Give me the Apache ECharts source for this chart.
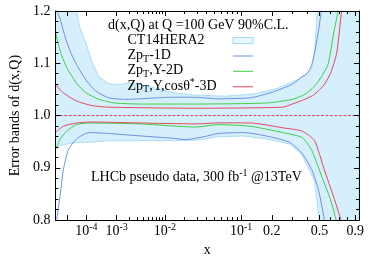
<!DOCTYPE html>
<html>
<head>
<meta charset="utf-8">
<script src="https://cdn.jsdelivr.net/npm/echarts@6.0.0/dist/echarts.min.js"></script>
<style>
html,body{margin:0;padding:0;background:#ffffff;}
#chart{width:374px;height:262px;}
</style>
</head>
<body>
<div id="chart"></div>
<script>
// ---------------- data (x in real units, y = ratio to central) ----------------
const bandUpperX = [1.08e-6, 9.31e-6, 3.45e-5, 4.97e-5, 9.72e-5, 1.70e-4, 2.95e-4, 5.98e-4, 1.10e-3, 1.89e-3, 3.56e-3, 7.31e-3, 1.36e-2, 2.88e-2, 6.61e-2, 0.1341, 0.2263, 0.3316, 0.3975, 0.4335, 0.4571, 0.4812, 0.515, 0.6, 0.955];
const bandUpperY = [1.40, 1.26, 1.20, 1.17, 1.138, 1.101, 1.074, 1.061, 1.059, 1.062, 1.059, 1.052, 1.0435, 1.039, 1.037, 1.041, 1.052, 1.0685, 1.0795, 1.089, 1.12, 1.20, 1.35, 1.5, 1.5];
const bandLowerX = [1.08e-6, 3.04e-6, 3.45e-5, 1.70e-4, 5.98e-4, 1.36e-2, 2.88e-2, 3.84e-2, 5.5e-2, 0.1069, 0.1773, 0.2856, 0.3634, 0.4571, 0.4979, 0.515, 0.6, 0.955];
const bandLowerY = [0.937, 0.943, 0.949, 0.949, 0.952, 0.952, 0.953, 0.955, 0.9595, 0.961, 0.955, 0.946, 0.925, 0.875, 0.80, 0.76, 0.5, 0.5];

const up1DX = [1.08e-6, 1.57e-6, 3.04e-6, 5.44e-6, 9.31e-6, 1.87e-5, 3.45e-5, 9.72e-5, 2.29e-4, 5.98e-4, 1.59e-3, 3.56e-3, 7.31e-3, 1.36e-2, 2.88e-2, 5.5e-2, 0.125, 0.2046, 0.3023, 0.3634, 0.3975, 0.4335, 0.4649, 0.4925, 0.515, 0.54];
const up1DY = [1.21, 1.2, 1.184, 1.162, 1.141, 1.117, 1.098, 1.068, 1.047, 1.034, 1.031, 1.032, 1.034, 1.035, 1.035, 1.032, 1.034, 1.045, 1.060, 1.074, 1.080, 1.096, 1.129, 1.165, 1.2, 1.24];
const lo1DX = [1.08e-6, 1.57e-6, 3.04e-6, 5.44e-6, 1.18e-5, 3.45e-5, 1.31e-4, 5.98e-4, 3.56e-3, 1.36e-2, 2.12e-2, 3.84e-2, 5.5e-2, 0.1069, 0.1773, 0.2856, 0.3634, 0.4335, 0.4871, 0.5417, 0.56];
const lo1DY = [0.77, 0.804, 0.849, 0.897, 0.934, 0.955, 0.9675, 0.9657, 0.961, 0.9565, 0.954, 0.960, 0.9657, 0.9675, 0.961, 0.949, 0.928, 0.897, 0.861, 0.802, 0.773];

const up2DX = [1.08e-6, 3.04e-6, 9.31e-6, 3.45e-5, 9.72e-5, 2.95e-4, 9.05e-4, 3.56e-3, 2.88e-2, 0.1773, 0.3023, 0.3836, 0.4571, 0.515, 0.5788, 0.6382, 0.6805, 0.7137];
const up2DY = [1.160, 1.123, 1.092, 1.062, 1.0435, 1.031, 1.024, 1.022, 1.022, 1.024, 1.031, 1.0405, 1.056, 1.074, 1.098, 1.16, 1.196, 1.23];
const lo2DX = [1.08e-6, 3.04e-6, 9.31e-6, 3.45e-5, 1.31e-4, 3.56e-3, 2.88e-2, 5.5e-2, 0.1247, 0.2496, 0.3634, 0.4335, 0.515, 0.6077, 0.6591, 0.6912];
const lo2DY = [0.934, 0.955, 0.970, 0.9826, 0.9858, 0.984, 0.978, 0.9826, 0.9795, 0.9675, 0.958, 0.934, 0.886, 0.8365, 0.802, 0.773];

const up3DX = [1.08e-6, 5.3e-6, 3.45e-5, 1.70e-4, 5.98e-4, 2.88e-2, 0.2496, 0.3023, 0.3836, 0.4571, 0.5417, 0.6077, 0.6696, 0.725, 0.760];
const up3DY = [1.059, 1.0435, 1.028, 1.019, 1.016, 1.014, 1.016, 1.022, 1.031, 1.0405, 1.059, 1.083, 1.12, 1.2, 1.238];
const lo3DX = [1.08e-6, 5.3e-6, 3.45e-5, 1.70e-4, 3.56e-3, 2.88e-2, 5.5e-2, 0.1247, 0.2496, 0.3634, 0.4571, 0.5417, 0.6382, 0.7137, 0.7485];
const lo3DY = [0.9675, 0.9795, 0.9858, 0.9876, 0.9858, 0.984, 0.986, 0.9858, 0.9766, 0.9704, 0.952, 0.897, 0.843, 0.802, 0.773];

const centralY = [1.0, 1.0];

const xLabelValues = [1e-4, 1e-3, 1e-2, 0.1, 0.2, 0.5, 0.9];
const xLabelTexts = ['10^-4', '10^-3', '10^-2', '10^-1', '0.2', '0.5', '0.9'];
const xMajorTicks = [1e-5, 1e-4, 1e-3, 1e-2, 0.1, 0.2, 0.5, 0.9];
const xMinorTicks = [2e-3, 3e-3, 4e-3, 5e-3, 6e-3, 7e-3, 8e-3, 9e-3, 2e-2, 3e-2, 4e-2, 5e-2, 6e-2, 7e-2, 8e-2, 9e-2, 0.3, 0.4, 0.6, 0.7, 0.8];

const legendNames = ['CT14HERA2', 'Zp_T-1D', 'Zp_T,Y-2D', 'Zp_T,Y,cosθ^*-3D'];
const headerText = 'd(x,Q) at Q =100 GeV 90%C.L.';
const noteText = 'LHCb pseudo data, 300 fb^-1 @13TeV';

// ---------------- helpers ----------------
const X_MIN = 1.08e-6, X_MAX = 0.955;
const toU = x => Math.pow(x, 0.2);   // the reference x axis is a power (x^0.2) scale
const FONT = '"Liberation Serif", "Times New Roman", serif';
const C_BLUE = '#6f8fe3', C_GREEN = '#3fcf3f', C_RED = '#e5475d';
const pairs = (xs, ys) => xs.map((x, i) => [toU(x), ys[i]]);

// convert "a_b" / "a^b" markup into rich text
function toRich(s) {
  let out = '', buf = '';
  for (let i = 0; i < s.length; i++) {
    const ch = s[i];
    if (ch === '_' || ch === '^') {
      if (buf) out += '{a|' + buf + '}';
      buf = '';
      let j = i + 1, t = '';
      if (s[j] === '-') { t += '-'; j++; }
      while (j < s.length && /[A-Za-z0-9*]/.test(s[j])) { t += s[j]; j++; if (ch === '_') break; if (t.length >= 2 && t[0] !== '-') break; }
      out += '{' + (ch === '_' ? 'sub' : 'sup') + '|' + t + '}';
      i = j - 1;
    } else buf += ch;
  }
  if (buf) out += '{a|' + buf + '}';
  return out;
}
const RICH = {
  a: { fontSize: 14, fontFamily: FONT, color: '#000', lineHeight: 17 },
  sub: { fontSize: 10, fontFamily: FONT, color: '#000', verticalAlign: 'bottom' },
  sup: { fontSize: 10, fontFamily: FONT, color: '#000', verticalAlign: 'top' }
};

function fmtX(v) {
  let best = 0, bd = Infinity;
  xLabelValues.forEach((x, i) => { const d = Math.abs(toU(x) - v); if (d < bd) { bd = d; best = i; } });
  const s = xLabelTexts[best];
  const k = s.indexOf('^');
  return k < 0 ? '{b|' + s + '}' : '{b|' + s.slice(0, k) + '}{s|' + s.slice(k + 1) + '}';
}

const lineBlack = { color: '#000', width: 1 };
function xAx(pos, ticks, len, showLine, withLabels) {
  const ax = {
    type: 'value', position: pos, min: toU(X_MIN), max: toU(X_MAX),
    axisLine: { show: showLine, onZero: false, lineStyle: lineBlack },
    axisTick: { show: true, inside: true, length: len, customValues: ticks.map(toU), lineStyle: lineBlack },
    axisLabel: { show: false },
    splitLine: { show: false }, z: 10
  };
  if (withLabels) {
    ax.axisLabel = {
      show: true, customValues: xLabelValues.map(toU), formatter: fmtX, margin: 2,
      rich: {
        b: { fontSize: 14, fontFamily: FONT, color: '#000', lineHeight: 18 },
        s: { fontSize: 10, fontFamily: FONT, color: '#000', verticalAlign: 'top' }
      }
    };
    ax.name = 'x';
    ax.nameLocation = 'middle';
    ax.nameGap = 20;
    ax.nameTextStyle = { fontFamily: FONT, fontSize: 14, color: '#000' };
  }
  return ax;
}
function yAx(pos, withLabels) {
  const ax = {
    type: 'value', position: pos, min: 0.8, max: 1.2, interval: 0.1,
    axisLine: { show: true, onZero: false, lineStyle: lineBlack },
    axisTick: { show: true, inside: true, length: 5, lineStyle: lineBlack },
    minorTick: { show: true, splitNumber: 5, length: 3, lineStyle: lineBlack },
    axisLabel: { show: false },
    splitLine: { show: false }, z: 10
  };
  if (withLabels) {
    ax.axisLabel = { show: true, margin: 5, formatter: v => v.toFixed(1), fontFamily: FONT, fontSize: 14, color: '#000' };
    ax.name = 'Error bands of d(x,Q)';
    ax.nameLocation = 'middle';
    ax.nameGap = 25;
    ax.nameTextStyle = { fontFamily: FONT, fontSize: 14, color: '#000' };
  }
  return ax;
}

// ---------------- legend (drawn as graphic) ----------------
const legendRowY = [40.5, 55.5, 70.8, 86.3];
const legendStyles = [
  { kind: 'rect' }, { kind: 'line', color: C_BLUE }, { kind: 'line', color: C_GREEN }, { kind: 'line', color: C_RED }
];
const graphics = [
  { type: 'text', x: 108, y: 25, z: 20, style: { text: headerText, fontSize: 14, fontFamily: FONT, fill: '#000', verticalAlign: 'middle' } },
  { type: 'text', x: 91, y: 177, z: 20, style: { text: toRich(noteText), rich: RICH, fill: '#000', verticalAlign: 'middle' } }
];
legendNames.forEach((n, i) => {
  graphics.push({ type: 'text', x: 127.5, y: legendRowY[i], z: 20, style: { text: toRich(n), rich: RICH, fill: '#000', verticalAlign: 'middle' } });
  const st = legendStyles[i];
  if (st.kind === 'rect') {
    graphics.push({ type: 'rect', z: 20, shape: { x: 233, y: legendRowY[i] - 3, width: 20, height: 6 }, style: { fill: '#eaf7fe', stroke: '#a4daf6', lineWidth: 1 } });
  } else {
    graphics.push({ type: 'line', z: 20, shape: { x1: 233, y1: legendRowY[i] + 0.5, x2: 253, y2: legendRowY[i] + 0.5 }, style: { stroke: st.color, lineWidth: 1 } });
  }
});

function curve(name, xs, ys, color) {
  return { type: 'line', name, data: pairs(xs, ys), symbol: 'none', smooth: 0.2, clip: true, z: 3,
           lineStyle: { color, width: 1 }, emphasis: { disabled: true } };
}

const chart = echarts.init(document.getElementById('chart'), null, { renderer: 'canvas' });
chart.setOption({
  animation: false,
  backgroundColor: '#ffffff',
  grid: { left: 45, right: 15, top: 11, bottom: 32, containLabel: false },
  xAxis: [
    xAx('bottom', xMajorTicks, 5, true, true),
    xAx('bottom', xMinorTicks, 3, false, false),
    xAx('top', xMajorTicks, 5, true, false),
    xAx('top', xMinorTicks, 3, false, false)
  ],
  yAxis: [yAx('left', true), yAx('right', false)],
  graphic: graphics,
  series: [
    {
      type: 'custom', name: 'CT14HERA2', coordinateSystem: 'cartesian2d', clip: true, z: 1, silent: true,
      data: [[toU(X_MIN), 1]],
      renderItem: (params, api) => {
        const pts = [];
        bandUpperX.forEach((x, i) => pts.push(api.coord([toU(x), bandUpperY[i]])));
        for (let i = bandLowerX.length - 1; i >= 0; i--) pts.push(api.coord([toU(bandLowerX[i]), bandLowerY[i]]));
        return { type: 'polygon', shape: { points: pts, smooth: 0 }, style: { fill: '#d5effc', stroke: '#a9dcf6', lineWidth: 1 } };
      }
    },
    {
      type: 'line', name: 'central', data: [[toU(X_MIN), centralY[0]], [toU(X_MAX), centralY[1]]], symbol: 'none', z: 2,
      lineStyle: { color: '#e0405a', width: 1, type: [3, 1.5] }
    },
    curve('Zp_T-1D', up1DX, up1DY, C_BLUE),
    curve('Zp_T-1D', lo1DX, lo1DY, C_BLUE),
    curve('Zp_T,Y-2D', up2DX, up2DY, C_GREEN),
    curve('Zp_T,Y-2D', lo2DX, lo2DY, C_GREEN),
    curve('Zp_T,Y,cosθ*-3D', up3DX, up3DY, C_RED),
    curve('Zp_T,Y,cosθ*-3D', lo3DX, lo3DY, C_RED)
  ]
});
</script>
</body>
</html>
